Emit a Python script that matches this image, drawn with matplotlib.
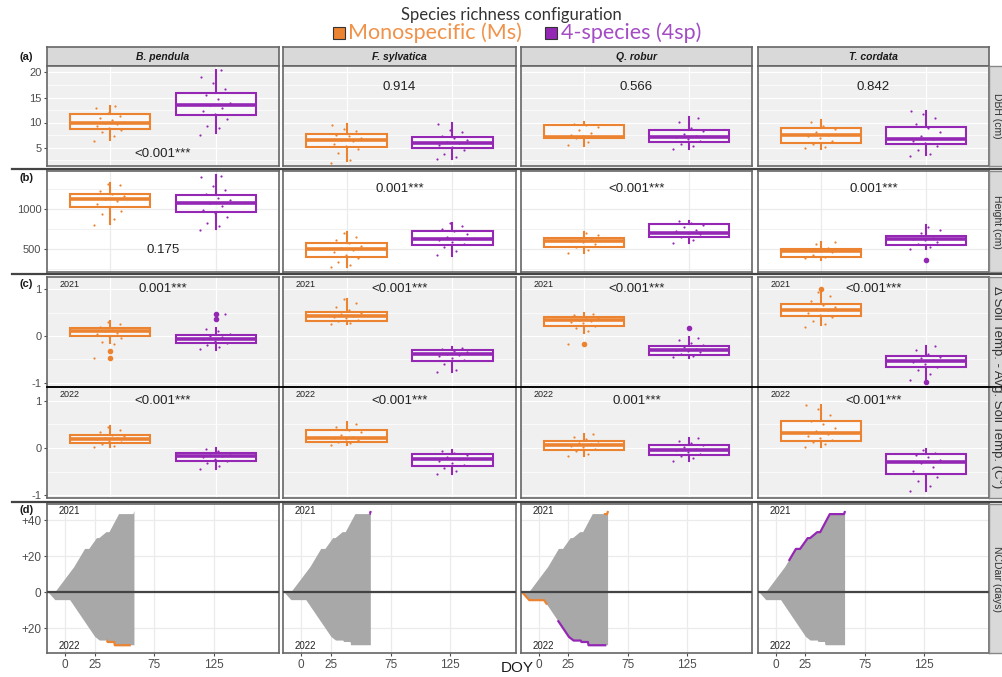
# -*- coding: utf-8 -*-
import numpy as np
import matplotlib.pyplot as plt
from matplotlib.lines import Line2D
from matplotlib.patches import Rectangle

plt.rcParams['font.family'] = ['Liberation Sans', 'DejaVu Sans']
plt.rcParams['axes.unicode_minus'] = False

species = ['B. pendula', 'F. sylvatica', 'Q. robur', 'T. cordata']
groups = ['Monospecific (Ms)', '4-species (4sp)']

# box stats per species: (lower whisker, q1, median, q3, upper whisker)
dbh_ms = [(6.5, 8.8, 10.0, 11.7, 13.3), (2.3, 5.1, 6.5, 7.7, 9.7),
          (5.4, 6.9, 7.2, 9.5, 10.1), (4.7, 6.0, 7.5, 8.9, 10.5)]
dbh_4sp = [(7.9, 11.5, 13.5, 15.9, 20.4), (2.7, 5.0, 6.0, 7.2, 10.0),
           (4.8, 6.1, 7.2, 8.5, 11.2), (3.5, 5.7, 6.8, 9.2, 12.3)]
height_ms = [(815, 1029, 1134, 1197, 1327), (269, 399, 496, 571, 710),
             (446, 521, 597, 638, 718), (357, 403, 479, 504, 592)]
height_4sp = [(752, 970, 1075, 1184, 1428), (416, 550, 626, 731, 823),
              (572, 651, 705, 811, 857), (496, 550, 622, 664, 802)]
soil21_ms = [(-0.16, -0.01, 0.10, 0.18, 0.31), (0.25, 0.32, 0.42, 0.52, 0.78),
             (0.06, 0.21, 0.34, 0.41, 0.49), (0.23, 0.43, 0.56, 0.68, 0.95)]
soil21_4sp = [(-0.29, -0.16, -0.06, 0.03, 0.18), (-0.78, -0.53, -0.39, -0.31, -0.24),
              (-0.46, -0.41, -0.31, -0.22, -0.03), (-0.95, -0.66, -0.54, -0.43, -0.22)]
soil22_ms = [(0.03, 0.11, 0.19, 0.28, 0.47), (0.06, 0.12, 0.21, 0.37, 0.55),
             (-0.18, -0.05, 0.06, 0.14, 0.30), (0.03, 0.14, 0.32, 0.57, 0.90)]
soil22_4sp = [(-0.44, -0.28, -0.18, -0.10, -0.01), (-0.55, -0.38, -0.24, -0.12, -0.04),
              (-0.27, -0.14, -0.04, 0.07, 0.21), (-0.91, -0.55, -0.29, -0.12, -0.02)]

# outliers
height_out_4sp = [[], [], [], [361]]
soil21_out_ms = [[-0.33, -0.46], [], [-0.17], [1.0]]
soil21_out_4sp = [[0.36, 0.46], [], [0.18], [-0.98]]

# individual trees (jittered points)
dbh_pts_ms = [[6.3, 7.3, 8.2, 8.6, 9.0, 9.4, 9.8, 10.0, 10.2, 10.6, 11.0, 11.4, 12.0, 12.9, 13.4],
              [2.0, 2.6, 3.9, 4.8, 5.4, 5.8, 6.3, 6.6, 7.0, 7.4, 7.6, 8.3, 8.8, 9.6],
              [5.6, 6.2, 7.0, 7.2, 7.3, 7.5, 8.0, 8.6, 9.2, 9.6, 9.8],
              [4.9, 5.2, 5.8, 6.3, 6.9, 7.4, 7.6, 8.1, 8.7, 9.4, 10.1]]
dbh_pts_4sp = [[7.6, 8.9, 9.3, 10.8, 11.8, 12.3, 13.0, 13.5, 14.0, 14.8, 15.6, 16.8, 17.9, 19.0, 20.4],
               [2.7, 3.2, 3.7, 4.6, 5.1, 5.5, 5.9, 6.1, 6.5, 7.0, 7.4, 8.1, 8.6, 9.8],
               [4.8, 5.3, 5.8, 6.4, 6.8, 7.1, 7.3, 7.8, 8.3, 9.0, 10.2, 10.9],
               [3.4, 3.8, 4.6, 5.3, 5.9, 6.4, 6.8, 7.4, 8.2, 9.0, 9.8, 10.9, 11.7, 12.4]]
height_pts_ms = [[800, 880, 940, 980, 1030, 1070, 1100, 1130, 1160, 1190, 1230, 1300, 1320],
                 [270, 300, 340, 380, 420, 460, 490, 510, 540, 570, 610, 650, 700],
                 [450, 490, 530, 560, 590, 600, 620, 640, 670, 700],
                 [380, 400, 430, 460, 480, 490, 510, 560, 590]]
height_pts_4sp = [[740, 790, 830, 900, 950, 990, 1040, 1080, 1110, 1140, 1190, 1240, 1290, 1400, 1420],
                  [420, 470, 520, 560, 590, 610, 630, 650, 690, 720, 750, 790, 820],
                  [580, 610, 650, 690, 700, 720, 740, 770, 800, 830, 850],
                  [500, 530, 560, 590, 610, 630, 660, 700, 740, 780]]
soil21_pts_ms = [[-0.47, -0.18, -0.12, -0.05, 0.0, 0.04, 0.07, 0.10, 0.12, 0.16, 0.20, 0.25, 0.30],
                 [0.25, 0.28, 0.32, 0.35, 0.38, 0.41, 0.43, 0.46, 0.50, 0.55, 0.62, 0.70, 0.78],
                 [-0.17, 0.10, 0.18, 0.22, 0.27, 0.30, 0.33, 0.35, 0.38, 0.41, 0.44, 0.47],
                 [0.20, 0.25, 0.32, 0.40, 0.45, 0.50, 0.55, 0.58, 0.62, 0.67, 0.75, 0.85, 0.95]]
soil21_pts_4sp = [[-0.28, -0.24, -0.20, -0.15, -0.10, -0.06, -0.03, 0.0, 0.04, 0.10, 0.15, 0.46],
                  [-0.78, -0.72, -0.60, -0.52, -0.47, -0.43, -0.40, -0.38, -0.35, -0.32, -0.28, -0.25],
                  [-0.45, -0.42, -0.38, -0.35, -0.32, -0.30, -0.27, -0.24, -0.20, -0.14, -0.08, -0.04],
                  [-0.95, -0.82, -0.73, -0.66, -0.60, -0.56, -0.52, -0.48, -0.44, -0.38, -0.30, -0.22]]
soil22_pts_ms = [[0.01, 0.05, 0.09, 0.12, 0.15, 0.18, 0.20, 0.22, 0.25, 0.28, 0.33, 0.38, 0.45],
                 [0.06, 0.10, 0.13, 0.16, 0.19, 0.21, 0.24, 0.28, 0.33, 0.38, 0.44, 0.50],
                 [-0.18, -0.12, -0.06, -0.02, 0.02, 0.05, 0.08, 0.11, 0.14, 0.19, 0.24, 0.30],
                 [0.03, 0.08, 0.12, 0.16, 0.20, 0.25, 0.30, 0.36, 0.42, 0.50, 0.58, 0.70, 0.82, 0.90]]
soil22_pts_4sp = [[-0.44, -0.38, -0.32, -0.27, -0.23, -0.20, -0.17, -0.14, -0.11, -0.06, -0.02],
                  [-0.55, -0.48, -0.42, -0.37, -0.32, -0.28, -0.24, -0.20, -0.15, -0.10, -0.06],
                  [-0.27, -0.22, -0.17, -0.13, -0.09, -0.05, -0.02, 0.02, 0.06, 0.10, 0.15, 0.20],
                  [-0.91, -0.80, -0.70, -0.62, -0.55, -0.48, -0.40, -0.32, -0.26, -0.20, -0.15, -0.10, -0.04]]

# p-values and where they are written (y in data units)
dbh_p = ['<0.001***', '0.914', '0.566', '0.842']
dbh_p_y = [3.7, 17.1, 17.1, 17.1]
height_p = ['0.175', '0.001***', '<0.001***', '0.001***']
height_p_y = [490, 1255, 1255, 1255]
soil21_p = ['0.001***', '<0.001***', '<0.001***', '<0.001***']
soil22_p = ['<0.001***', '<0.001***', '0.001***', '<0.001***']

# NCDair envelope (days) vs DOY
doy21 = [-14, -8, 0, 8, 17, 20.5, 27, 29, 35, 37.5, 45.6, 57.6, 58.5]
ncd21 = [0, 0, 7, 14, 24, 24, 30, 30, 33.3, 33.3, 43.3, 43.3, 45]
doy22 = [-14, -8, 4.5, 25.5, 29.4, 35.5, 36, 41.5, 42, 58.5]
ncd22 = [0, -4.4, -4.4, -24.8, -26.8, -26.8, -27.6, -27.6, -29.4, -29.4]
# highlighted periods: (group index, year, DOY start, DOY end)
ncd_highlight = [[(0, 2022, 35, 55.5)],
                 [(1, 2021, 57.4, 58.5)],
                 [(0, 2021, 55, 58.5), (0, 2022, -14, 7), (1, 2022, 16, 57)],
                 [(1, 2021, 11, 58.5)]]

ORANGE = '#EC8331'
PURPLE = '#9428B4'
cols = [ORANGE, PURPLE]
W, H = 1002, 677

fig = plt.figure(figsize=(W / 100, H / 100), dpi=100)


def pax(x0, y0, x1, y1):
    return fig.add_axes([x0 / W, 1 - y1 / H, (x1 - x0) / W, (y1 - y0) / H])


def hline(y, x0, x1, color, lw):
    fig.add_artist(Line2D([x0 / W, x1 / W], [1 - y / H, 1 - y / H], color=color, lw=lw))


def style(ax, bg, gridc, first, major, minor):
    ax.set_facecolor(bg)
    for s in ax.spines.values():
        s.set_color('#666666')
        s.set_linewidth(1.2)
    ax.set_yticks(major)
    ax.set_yticks(minor, minor=True)
    ax.grid(True, which='major', color=gridc, lw=0.9)
    ax.grid(True, which='minor', axis='y', color=gridc, lw=0.5)
    ax.set_axisbelow(True)
    ax.tick_params(axis='y', which='minor', length=0)
    ax.tick_params(axis='both', labelsize=8, colors='#4D4D4D', length=2.5, pad=1.5)
    if not first:
        ax.tick_params(axis='y', which='major', length=0, labelleft=False)


def box_panel(ax, st_ms, st_sp, pts_ms, pts_sp, out_ms, out_sp, ptxt, py):
    for pos, st, pts, out, c in ((1, st_ms, pts_ms, out_ms, ORANGE),
                                 (2, st_sp, pts_sp, out_sp, PURPLE)):
        lo, q1, med, q3, hi = st
        ax.bxp([dict(whislo=lo, q1=q1, med=med, q3=q3, whishi=hi, fliers=out)],
               positions=[pos], widths=0.76, patch_artist=True, showcaps=False,
               boxprops=dict(facecolor=(1, 1, 1, 0.55), edgecolor=c, linewidth=1.5),
               medianprops=dict(color=c, linewidth=2.6),
               whiskerprops=dict(color=c, linewidth=1.5),
               flierprops=dict(marker='o', markerfacecolor=c, markeredgecolor=c, markersize=3),
               manage_ticks=False, zorder=3)
        n = len(pts)
        jit = ((np.arange(n) * 0.618034) % 1 - 0.5) * 0.3
        ax.scatter(pos + jit, pts, s=2.5, color=c, lw=0, zorder=4)
    ax.set_xlim(0.4, 2.6)
    ax.set_xticks([1, 2])
    ax.tick_params(axis='x', length=0, labelbottom=False)
    ax.text(1.5, py, ptxt, ha='center', va='center', fontsize=9.5, color='#222222', zorder=5)


col_x = [(47, 279), (283, 516), (521, 752), (758, 989)]

for i, sp in enumerate(species):
    x0, x1 = col_x[i]
    first = i == 0
    # top strip
    st = pax(x0, 47, x1, 66)
    st.set_facecolor('#D9D9D9')
    st.set_xticks([])
    st.set_yticks([])
    for s in st.spines.values():
        s.set_color('#666666')
        s.set_linewidth(1.2)
    st.text(0.5, 0.48, sp, ha='center', va='center', fontsize=7.5,
            fontweight='bold', fontstyle='italic', color='#1A1A1A')

    # (a) DBH
    ax = pax(x0, 66, x1, 166)
    style(ax, '#F0F0F0', 'white', first, [5, 10, 15, 20], [2.5, 7.5, 12.5, 17.5])
    box_panel(ax, dbh_ms[i], dbh_4sp[i], dbh_pts_ms[i], dbh_pts_4sp[i], [], [],
              dbh_p[i], dbh_p_y[i])
    ax.set_ylim(1.3, 21.3)

    # (b) Height
    ax = pax(x0, 171, x1, 272)
    style(ax, 'white', '#EBEBEB', first, [500, 1000], [250, 750, 1250])
    box_panel(ax, height_ms[i], height_4sp[i], height_pts_ms[i], height_pts_4sp[i],
              [], height_out_4sp[i], height_p[i], height_p_y[i])
    ax.set_ylim(210, 1480)

    # (c) soil temperature 2021 / 2022
    for (ya, yb, sms, ssp, pms, psp, oms, osp, ptx, yr, lim) in (
            (277, 387, soil21_ms, soil21_4sp, soil21_pts_ms, soil21_pts_4sp,
             soil21_out_ms[i], soil21_out_4sp[i], soil21_p[i], '2021', (-1.09, 1.26)),
            (387, 498, soil22_ms, soil22_4sp, soil22_pts_ms, soil22_pts_4sp,
             [], [], soil22_p[i], '2022', (-1.06, 1.29))):
        ax = pax(x0, ya, x1, yb)
        style(ax, '#F0F0F0', 'white', first, [-1, 0, 1], [-0.5, 0.5])
        box_panel(ax, sms[i], ssp[i], pms[i], psp[i], oms, osp, ptx, 1.0)
        ax.set_ylim(*lim)
        ax.text(0.055, 0.93, yr, transform=ax.transAxes, ha='left', va='center',
                fontsize=6.5, color='#222222')

    # (d) NCDair
    ax = pax(x0, 504, x1, 653)
    style(ax, 'white', '#EBEBEB', first, [-20, 0, 20, 40], [])
    ax.set_yticklabels(['+20', '0', '+20', '+40'])
    ax.tick_params(axis='y', labelsize=8.5)
    px = list(doy21) + list(doy22[::-1])
    pyv = list(ncd21) + list(ncd22[::-1])
    ax.fill(px, pyv, color='#A8A8A8', lw=0, zorder=2)
    for g, yr, a, b in ncd_highlight[i]:
        dx, dy = (doy21, ncd21) if yr == 2021 else (doy22, ncd22)
        xs = [a] + [d for d in dx if a < d < b] + [b]
        ys = np.interp(xs, dx, dy)
        ax.plot(xs, ys, color=cols[g], lw=1.6, solid_capstyle='butt', zorder=3)
    ax.axhline(0, color='#444444', lw=1.6, zorder=4)
    ax.set_xlim(-15, 180)
    ax.set_ylim(-33.7, 48.9)
    ax.set_xticks([0, 25, 75, 125])
    ax.tick_params(axis='x', labelsize=8.5, length=2.5)
    ax.text(0.05, 0.95, '2021', transform=ax.transAxes, ha='left', va='center',
            fontsize=7, color='#222222')
    ax.text(0.05, 0.05, '2022', transform=ax.transAxes, ha='left', va='center',
            fontsize=7, color='#222222')

# right-hand strips
for (ya, yb, lab, fs) in ((66, 166, 'DBH (cm)', 7.5), (171, 272, 'Height (cm)', 7.5),
                          (277, 498, 'Δ Soil Temp. - Avg. Soil Temp. (C°)', 9.5),
                          (504, 653, 'NCDair (days)', 7.5)):
    st = pax(989, ya, 1012, yb)
    st.set_facecolor('#D9D9D9')
    st.set_xticks([])
    st.set_yticks([])
    for s in st.spines.values():
        s.set_color('#888888')
        s.set_linewidth(1.0)
    fig.text(997 / W, 1 - (ya + yb) / 2 / H, lab, rotation=270, ha='center', va='center',
             fontsize=fs, color='#333333')

# separators between the rows
for y in (168.5, 274, 501.5):
    hline(y, 12, 1002, '#444444', 1.6)
hline(387, 47, 1002, 'black', 1.3)

# row labels
for lab, y in (('(a)', 57), ('(b)', 178), ('(c)', 284), ('(d)', 510)):
    fig.text(20 / W, 1 - y / H, lab, fontsize=8, fontweight='bold', va='center', color='#1A1A1A')

fig.text(517 / W, 1 - 668 / H, 'DOY', fontsize=11, ha='center', va='center', color='#1A1A1A')

# legend
fig.text(511 / W, 1 - 15 / H, 'Species richness configuration', fontsize=12,
         family=['Lato', 'DejaVu Sans'], ha='center', va='center', color='#333333')
for g, (sx, tx) in enumerate(((333, 348), (545, 561))):
    fig.add_artist(Rectangle((sx / W, 1 - 39 / H), 12 / W, 12 / H, transform=fig.transFigure,
                             facecolor=cols[g], edgecolor='#333333', lw=0.8))
    fig.text(tx / W, 1 - 33 / H, groups[g], fontsize=15.5, family=['Lato', 'DejaVu Sans'],
             ha='left', va='center', color=['#F0924A', '#A34CC4'][g])

fig.savefig('out.png', dpi=100)
